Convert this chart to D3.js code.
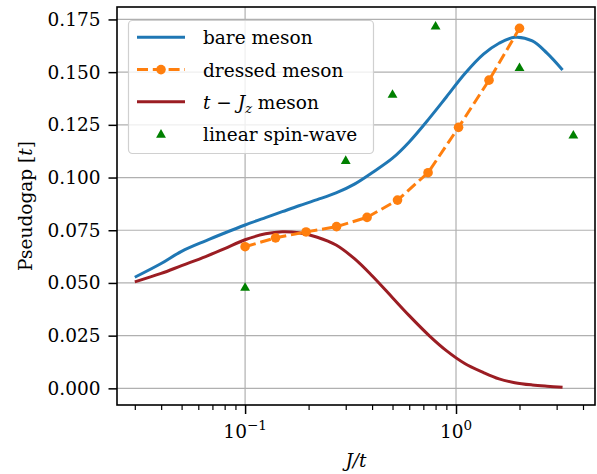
<!DOCTYPE html>
<html>
<head>
<meta charset="utf-8">
<script src="https://cdn.jsdelivr.net/npm/d3@7"></script>
<style>
  body { margin: 0; background: #fff; }
  svg { display: block; }
  text { font-family: "DejaVu Serif", serif; fill: #000; }
</style>
</head>
<body>
<div id="chart"></div>
<script>
// sampled J/t values for the continuous curves
const jLine = [0.03, 0.04, 0.05, 0.065, 0.08, 0.1, 0.125, 0.15, 0.18, 0.22, 0.27, 0.33,
  0.4, 0.5, 0.6, 0.75, 0.9, 1.1, 1.35, 1.6, 1.9, 2.3, 2.7, 3.2];
const bareMeson = [0.0527, 0.0592, 0.0650, 0.0700, 0.0737, 0.0775, 0.0810, 0.0838, 0.0866,
  0.0895, 0.0927, 0.0969, 0.1023, 0.1092, 0.1169, 0.1283, 0.1382, 0.1492, 0.1585, 0.1637,
  0.1665, 0.1648, 0.1590, 0.1510];
const tJzMeson = [0.0505, 0.0545, 0.0582, 0.0625, 0.0663, 0.0705, 0.0733, 0.0743, 0.0738,
  0.0717, 0.0680, 0.0615, 0.0534, 0.0430, 0.0345, 0.0248, 0.0179, 0.0118, 0.0075, 0.0045,
  0.0027, 0.0016, 0.0010, 0.0005];

// dressed meson points
const jDressed = [0.1, 0.1395, 0.1946, 0.2714, 0.3786, 0.528, 0.737, 1.028, 1.434, 2.0];
const dressedMeson = [0.0672, 0.0714, 0.0742, 0.0767, 0.0811, 0.0893, 0.1023, 0.1238, 0.1462, 0.1708];

// linear spin-wave points
const jLsw = [0.1, 0.3, 0.5, 0.8, 2.0, 3.6];
const linearSpinWave = [0.0480, 0.1082, 0.1396, 0.1719, 0.1523, 0.1202];

const yTicks = [0, 0.025, 0.05, 0.075, 0.1, 0.125, 0.15, 0.175];
const xMajor = [0.1, 1];
const xMinor = [0.03, 0.04, 0.05, 0.06, 0.07, 0.08, 0.09, 0.2, 0.3, 0.4, 0.5, 0.6, 0.7, 0.8, 0.9, 2, 3, 4];

const width = 597, height = 474;
const margin = { top: 7, right: 2, bottom: 69, left: 117 };

const colors = { bare: "#1f77b4", dressed: "#ff7f0e", tjz: "#9b1d23", lsw: "#008000" };

const svg = d3.select("#chart").append("svg")
  .attr("width", width)
  .attr("height", height);

const x = d3.scaleLog()
  .domain([0.0247, 4.56])
  .range([margin.left, width - margin.right]);

const y = d3.scaleLinear()
  .domain([-0.0079, 0.1809])
  .range([height - margin.bottom, margin.top]);

const x0 = margin.left, x1 = width - margin.right;
const y0 = height - margin.bottom, y1 = margin.top;

// grid
const grid = svg.append("g").attr("stroke", "#b0b0b0").attr("stroke-width", 1.2);
grid.selectAll(".gy").data(yTicks).join("line")
  .attr("x1", x0).attr("x2", x1)
  .attr("y1", d => y(d)).attr("y2", d => y(d));
grid.selectAll(".gx").data(xMajor).join("line")
  .attr("x1", d => x(d)).attr("x2", d => x(d))
  .attr("y1", y1).attr("y2", y0);

// axes
const yAxis = svg.append("g")
  .attr("transform", `translate(${x0},0)`)
  .call(d3.axisLeft(y).tickValues(yTicks).tickFormat(d3.format(".3f")).tickSize(8.5).tickPadding(8));
yAxis.select(".domain").remove();
yAxis.selectAll(".tick line").attr("stroke-width", 1.5);
yAxis.selectAll(".tick text")
  .style("font-family", "DejaVu Serif, serif")
  .style("font-size", "18.5px");

const xAxisMinor = svg.append("g")
  .attr("transform", `translate(0,${y0})`)
  .call(d3.axisBottom(x).tickValues(xMinor).tickSize(5).tickFormat(""));
xAxisMinor.select(".domain").remove();
xAxisMinor.selectAll(".tick line").attr("stroke-width", 1.2);

const xAxis = svg.append("g")
  .attr("transform", `translate(0,${y0})`)
  .call(d3.axisBottom(x).tickValues(xMajor).tickSize(9).tickFormat(""));
xAxis.select(".domain").remove();
xAxis.selectAll(".tick line").attr("stroke-width", 1.5);

// x tick labels as 10^n
const xLab = svg.append("g");
xMajor.forEach(v => {
  const e = Math.round(Math.log10(v));
  const t = xLab.append("text")
    .attr("x", x(v))
    .attr("y", 438)
    .attr("text-anchor", "middle")
    .style("font-size", "18.5px");
  t.append("tspan").text("10");
  t.append("tspan").attr("dy", -8).style("font-size", "13.5px")
    .text(e < 0 ? "\u2212" + (-e) : String(e));
});

// curves
const line = d3.line().x(d => x(d[0])).y(d => y(d[1]));
const smooth = d3.line().curve(d3.curveCatmullRom.alpha(0.5)).x(d => x(d[0])).y(d => y(d[1]));

svg.append("path")
  .datum(jLine.map((j, i) => [j, bareMeson[i]]))
  .attr("fill", "none").attr("stroke", colors.bare).attr("stroke-width", 3)
  .attr("d", smooth);

svg.append("path")
  .datum(jLine.map((j, i) => [j, tJzMeson[i]]))
  .attr("fill", "none").attr("stroke", colors.tjz).attr("stroke-width", 3)
  .attr("d", smooth);

const dressedPts = jDressed.map((j, i) => [j, dressedMeson[i]]);
svg.append("path")
  .datum(dressedPts)
  .attr("fill", "none").attr("stroke", colors.dressed).attr("stroke-width", 3)
  .attr("stroke-dasharray", "11,4.8")
  .attr("d", line);
svg.selectAll(".dot").data(dressedPts).join("circle")
  .attr("cx", d => x(d[0])).attr("cy", d => y(d[1]))
  .attr("r", 4.8).attr("fill", colors.dressed);

const tri = d3.symbol().type(d3.symbolTriangle).size(42);
svg.selectAll(".lsw").data(jLsw.map((j, i) => [j, linearSpinWave[i]])).join("path")
  .attr("d", tri)
  .attr("transform", d => `translate(${x(d[0])},${y(d[1]) + 0.8})`)
  .attr("fill", colors.lsw);

// frame
svg.append("rect")
  .attr("x", x0).attr("y", y1)
  .attr("width", x1 - x0).attr("height", y0 - y1)
  .attr("fill", "none").attr("stroke", "#000").attr("stroke-width", 1.6);

// legend
const lg = svg.append("g");
lg.append("rect")
  .attr("x", 128.5).attr("y", 20.5).attr("width", 245).attr("height", 133)
  .attr("rx", 4)
  .attr("fill", "#fff").attr("fill-opacity", 0.8)
  .attr("stroke", "#d0d0d0").attr("stroke-width", 1.2);

const rowY = [37.3, 69.6, 101.8, 134];
const hx0 = 137, hx1 = 185, tx = 203;

lg.append("line").attr("x1", hx0).attr("x2", hx1).attr("y1", rowY[0]).attr("y2", rowY[0])
  .attr("stroke", colors.bare).attr("stroke-width", 3);
lg.append("line").attr("x1", hx0).attr("x2", hx1).attr("y1", rowY[1]).attr("y2", rowY[1])
  .attr("stroke", colors.dressed).attr("stroke-width", 3).attr("stroke-dasharray", "11,4.8");
lg.append("circle").attr("cx", (hx0 + hx1) / 2).attr("cy", rowY[1]).attr("r", 4.8)
  .attr("fill", colors.dressed);
lg.append("line").attr("x1", hx0).attr("x2", hx1).attr("y1", rowY[2]).attr("y2", rowY[2])
  .attr("stroke", colors.tjz).attr("stroke-width", 3);
lg.append("path").attr("d", tri)
  .attr("transform", `translate(${(hx0 + hx1) / 2},${rowY[3] + 0.8})`)
  .attr("fill", colors.lsw);

const legendText = (i) => lg.append("text").attr("x", tx).attr("y", rowY[i] + 7)
  .style("font-size", "18.5px");
legendText(0).text("bare meson");
legendText(1).text("dressed meson");
const t3 = legendText(2);
t3.append("tspan").style("font-style", "italic").text("t");
t3.append("tspan").text(" \u2212 ");
t3.append("tspan").style("font-style", "italic").text("J");
t3.append("tspan").attr("dy", 4).style("font-size", "13px").style("font-style", "italic").text("z");
t3.append("tspan").attr("dy", -4).text(" meson");
legendText(3).text("linear spin-wave");

// axis labels
const yl = svg.append("text")
  .attr("transform", `translate(32,${(y0 + y1) / 2}) rotate(-90)`)
  .attr("text-anchor", "middle")
  .style("font-size", "18.5px");
yl.append("tspan").text("Pseudogap [");
yl.append("tspan").style("font-style", "italic").text("t");
yl.append("tspan").text("]");

svg.append("text")
  .attr("x", (x0 + x1) / 2).attr("y", 467)
  .attr("text-anchor", "middle")
  .style("font-size", "18.5px")
  .style("font-style", "italic")
  .text("J/t");
</script>
</body>
</html>
